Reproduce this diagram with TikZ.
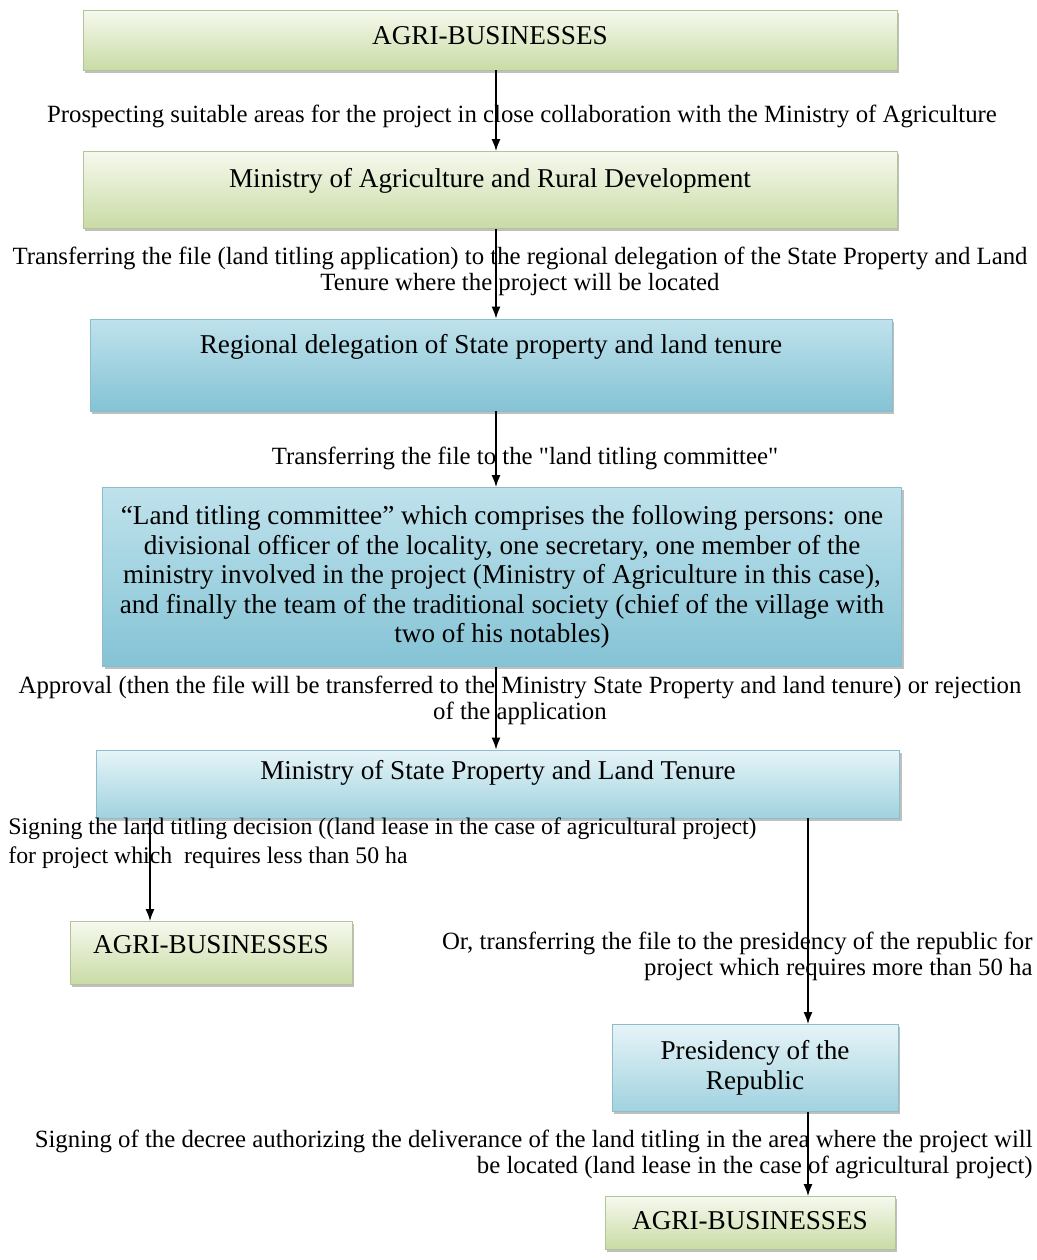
\documentclass[tikz,border=0pt]{standalone}
\usepackage{fontspec}
\setmainfont{Liberation Serif}
\usetikzlibrary{arrows.meta,shadows,calc}
\definecolor{greentop}{HTML}{F6F9EE}
\definecolor{greenbot}{HTML}{C9DBA5}
\definecolor{greenline}{HTML}{B3C598}
\definecolor{bluetop}{HTML}{E6F4F8}
\definecolor{bluebot}{HTML}{A0D2DF}
\definecolor{blueline}{HTML}{8BBDCB}
\definecolor{deeptop}{HTML}{BFE2EC}
\definecolor{deepbot}{HTML}{84C3D5}

\begin{document}
\begin{tikzpicture}[x=0.5pt,y=-0.5pt]
\tikzset{
    box/.style={rectangle,minimum width=#1,inner sep=2pt,align=center,
        font=\fontsize{13.6}{14.75}\selectfont,
        drop shadow={shadow xshift=1.2pt,shadow yshift=-1.3pt,fill=black!50,opacity=0.5}},
    oneline/.style={text height=9.5pt,text depth=#1},
    oneline/.default=3pt,
    greenbox/.style={box=#1,draw=greenline,top color=greentop,bottom color=greenbot},
    bluebox/.style={box=#1,draw=blueline,top color=bluetop,bottom color=bluebot},
    deepbox/.style={box=#1,draw=blueline,top color=deeptop,bottom color=deepbot},
    lbl/.style={inner sep=0pt,font=\fontsize{12.4}{13}\selectfont},
    flow/.style={->,>={Latex[length=6pt,width=4.5pt]},line width=0.8pt}
}
\useasboundingbox (0,0) rectangle (1037,1260);
% vertices
\node[greenbox=407pt,minimum height=30pt,oneline=5pt] (agri1) at (490,40) {AGRI-BUSINESSES};
\node[greenbox=407pt,minimum height=38.5pt,oneline=12pt] (minagri) at (490,190) {Ministry of Agriculture and Rural Development};
\node[deepbox=401pt,minimum height=46pt,oneline=21pt] (regdel) at (491,365) {Regional delegation of State property and land tenure};
\node[deepbox=399.5pt,minimum height=89.5pt] (committee) at (502,577)
  {``Land titling committee'' which comprises the following persons: one\\
   divisional officer of the locality, one secretary, one member of the\\
   ministry involved in the project (Ministry of Agriculture in this case),\\
   and finally the team of the traditional society (chief of the village with\\
   two of his notables)};
\node[bluebox=401.5pt,minimum height=34pt,oneline=14pt] (minstate) at (498,784) {Ministry of State Property and Land Tenure};
\node[greenbox=141pt,minimum height=31.5pt,oneline=9pt] (agri2) at (211,953) {AGRI-BUSINESSES};
\node[bluebox=143pt,minimum height=43.5pt] (presid) at (755,1068) {Presidency of the\\Republic};
\node[greenbox=145pt,minimum height=26.5pt,oneline] (agri3) at (750,1223) {AGRI-BUSINESSES};
% labels
\node[lbl] (prospect) at (522,116) {Prospecting suitable areas for the project in close collaboration with the Ministry of Agriculture};
\node[lbl,align=center] (transfer) at (520,271) {Transferring the file (land titling application) to the regional delegation of the State Property and Land\\Tenure where the project will be located};
\node[lbl] (tocommittee) at (525,458) {Transferring the file to the \textquotedbl land titling committee\textquotedbl};
\node[lbl,align=center] (approval) at (520,700) {Approval (then the file will be transferred to the Ministry State Property and land tenure) or rejection\\of the application};
\node[lbl,align=left,anchor=west,font=\fontsize{11.9}{14.5}\selectfont] (signing) at (8,843) {Signing the land titling decision ((land lease in the case of agricultural project)\\for project which\ \ requires less than 50 ha};
\node[lbl,align=right,anchor=east] (orpresid) at (1033,956) {Or, transferring the file to the presidency of the republic for\\project which requires more than 50 ha};
\node[lbl,align=right,anchor=east] (decree) at (1033,1154) {Signing of the decree authorizing the deliverance of the land titling in the area where the project will\\be located (land lease in the case of agricultural project)};
\coordinate (ax) at (496,0);
\coordinate (lx) at (150,0);
\coordinate (rx) at (808,0);
% edges
\path[flow]
(agri1.south -| ax) edge (minagri.north -| ax)
(minagri.south -| ax) edge (regdel.north -| ax)
(regdel.south -| ax) edge (committee.north -| ax)
(committee.south -| ax) edge (minstate.north -| ax)
(minstate.south -| lx) edge (agri2.north -| lx)
(minstate.south -| rx) edge (presid.north -| rx)
(presid.south -| rx) edge (agri3.north -| rx)
;
\end{tikzpicture}
\end{document}
